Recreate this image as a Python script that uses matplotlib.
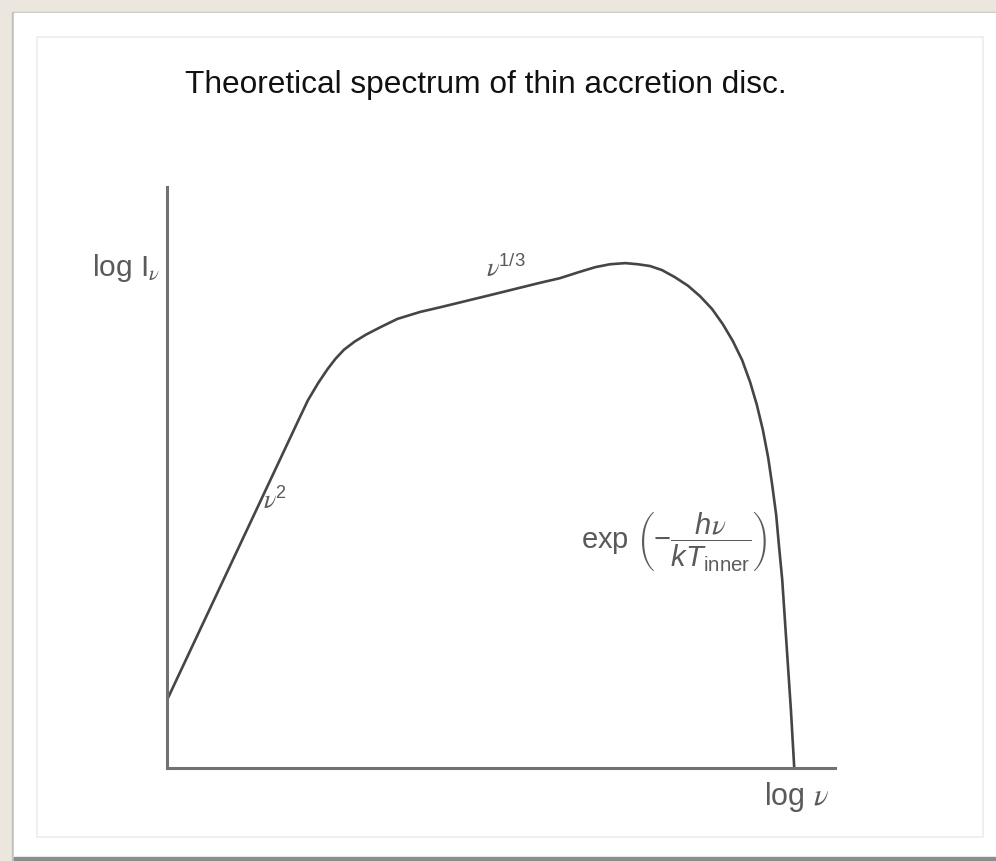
import matplotlib.pyplot as plt
from matplotlib.patches import Rectangle

plt.rcParams["font.family"] = ["Liberation Sans", "DejaVu Sans"]
plt.rcParams["mathtext.fontset"] = "custom"
plt.rcParams["mathtext.rm"] = "Liberation Sans"
plt.rcParams["mathtext.it"] = "Liberation Sans:italic"
plt.rcParams["mathtext.sf"] = "Liberation Sans"
# Greek nu in a Times-like italic
plt.rcParams["mathtext.tt"] = "STIXGeneral:italic"

# log(nu) and log(I_nu) along the disc spectrum, arbitrary units (0..10)
log_nu = [0.00, 1.99, 2.11, 2.26, 2.40, 2.52, 2.65, 2.81, 2.98, 3.20, 3.45,
          3.79, 4.09, 4.84, 5.58, 5.88, 6.18, 6.41, 6.63, 6.86, 7.05, 7.23,
          7.41, 7.60, 7.80, 7.98, 8.16, 8.32, 8.47, 8.61, 8.73, 8.83, 8.92,
          9.00, 9.06, 9.12, 9.16, 9.21, 9.25, 9.29, 9.34, 9.39]
log_I = [1.17, 6.04, 6.33, 6.62, 6.86, 7.04, 7.20, 7.34, 7.46, 7.59, 7.73,
         7.85, 7.93, 8.14, 8.35, 8.43, 8.54, 8.62, 8.67, 8.69, 8.67, 8.64,
         8.57, 8.45, 8.30, 8.12, 7.90, 7.64, 7.35, 7.02, 6.64, 6.25, 5.82,
         5.34, 4.87, 4.35, 3.84, 3.24, 2.55, 1.86, 1.00, 0.00]

title = "Theoretical spectrum of thin accretion disc."
ylabel = r"log I$_{\mathtt{\nu}}$"
xlabel = r"log $\mathtt{\nu}$"
low_label = r"$\mathtt{\nu}^{\mathsf{2}}$"
mid_label = r"$\mathtt{\nu}^{\mathsf{1/3}}$"
high_label = r"exp $\left(-\dfrac{h\mathtt{\nu}}{kT_{\mathsf{inner}}}\right)$"

W, H = 996, 861
LINE = "#454545"
AXIS = "#727272"
TEXT = "#5a5a5a"


def draw_frame(fig):
    """Paper backdrop, white card and its thin inner border (pixel units)."""
    bg = fig.add_axes([0, 0, 1, 1])
    bg.set_xlim(0, W)
    bg.set_ylim(H, 0)
    bg.axis("off")
    bg.add_patch(Rectangle((0, 0), W, H, color="#ece7de", zorder=0))
    bg.add_patch(Rectangle((12, 12), W, 850, color="#c4c0ba", zorder=1))
    bg.add_patch(Rectangle((14, 13), W, 844, color="white", zorder=2))
    bg.add_patch(Rectangle((14, 857), W, 4, color="#8c8c8c", zorder=2))
    bg.add_patch(Rectangle((37, 37), 946, 800, fill=False,
                           edgecolor="#ececec", lw=1.2, zorder=3))
    bg.text(486, 85, title, ha="center", va="center", fontsize=22.8,
            color="#111111")
    return bg


def plot_disc_spectrum(fig):
    """Sketch of log I_nu against log nu with the three power-law regimes."""
    ax = fig.add_axes([167 / W, (H - 768) / H, 668 / W, 581 / H])
    ax.patch.set_alpha(0)
    ax.set_xlim(0, 10)
    ax.set_ylim(0, 10)
    for side in ("top", "right"):
        ax.spines[side].set_visible(False)
    for side in ("left", "bottom"):
        ax.spines[side].set_color(AXIS)
        ax.spines[side].set_linewidth(2.2)
        ax.spines[side].set_capstyle("projecting")
    ax.set_xticks([])
    ax.set_yticks([])

    ax.plot(log_nu, log_I, color=LINE, lw=1.9, solid_joinstyle="round",
            solid_capstyle="butt", clip_on=False)

    ax.text(-0.1, 8.6, ylabel, ha="right", va="center", fontsize=21.5,
            color=TEXT)
    ax.text(9.42, -0.5, xlabel, ha="center", va="center", fontsize=22,
            color=TEXT)
    ax.text(1.62, 4.6, low_label, ha="center", va="center", fontsize=18.5,
            color=TEXT)
    ax.text(4.77, 8.6, mid_label, ha="left", va="center", fontsize=19,
            color=TEXT)
    ax.text(7.6, 3.88, high_label, ha="center", va="center", fontsize=21,
            color=TEXT)
    return ax


if __name__ == "__main__":
    fig = plt.figure(figsize=(W / 100, H / 100), dpi=100)
    draw_frame(fig)
    plot_disc_spectrum(fig)
    fig.savefig("out.png", dpi=100)
